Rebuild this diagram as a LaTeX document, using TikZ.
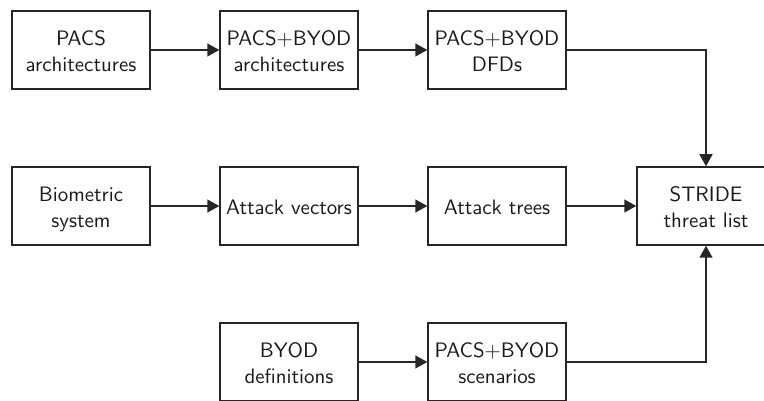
\documentclass[tikz,border=0pt]{standalone}
\usetikzlibrary{arrows.meta}
% two-line centred label, set at 10pt and enlarged as a whole
\newcommand\boxtext[1]{\raisebox{-8.5pt}[0pt][0pt]{\scalebox{2.09}{\sffamily\renewcommand\arraystretch{1.04}\begin{tabular}{@{}c@{}}#1\end{tabular}}}}
\begin{document}
\begin{tikzpicture}[x=1pt,y=-1pt,
  box/.style={draw=black!85, line width=1.5pt, minimum width=138pt, minimum height=78pt,
    inner sep=0pt, text=black!90},
  flow/.style={draw=black!85, line width=1.5pt, -{Triangle[length=12pt,width=13pt]}}]
\useasboundingbox (0,0) rectangle (764,401);
\clip (0,0) rectangle (764,401);
% column centres: 81, 289, 497, 706 ; row centres: 50, 206, 362
\node[box] (pacs)   at (81,50)   {\boxtext{PACS\\architectures}};
\node[box] (pbarch) at (289,50)  {\boxtext{PACS+BYOD\\architectures}};
\node[box] (dfd)    at (497,50)  {\boxtext{PACS+BYOD\\DFDs}};
\node[box] (bio)    at (81,206)  {\boxtext{Biometric\\system}};
\node[box] (vec)    at (289,206) {\boxtext{Attack vectors}};
\node[box] (tree)   at (497,206) {\boxtext{Attack trees}};
\node[box] (stride) at (706,206) {\boxtext{STRIDE\\threat list}};
\node[box] (byod)   at (289,362) {\boxtext{BYOD\\definitions}};
\node[box] (scen)   at (497,362) {\boxtext{PACS+BYOD\\scenarios}};
\draw[flow] (pacs) -- (pbarch);
\draw[flow] (pbarch) -- (dfd);
\draw[flow] (bio) -- (vec);
\draw[flow] (vec) -- (tree);
\draw[flow] (tree) -- (stride);
\draw[flow] (byod) -- (scen);
\draw[flow] (dfd.east) -| (stride.north);
\draw[flow] (scen.east) -| (stride.south);
\end{tikzpicture}
\end{document}
